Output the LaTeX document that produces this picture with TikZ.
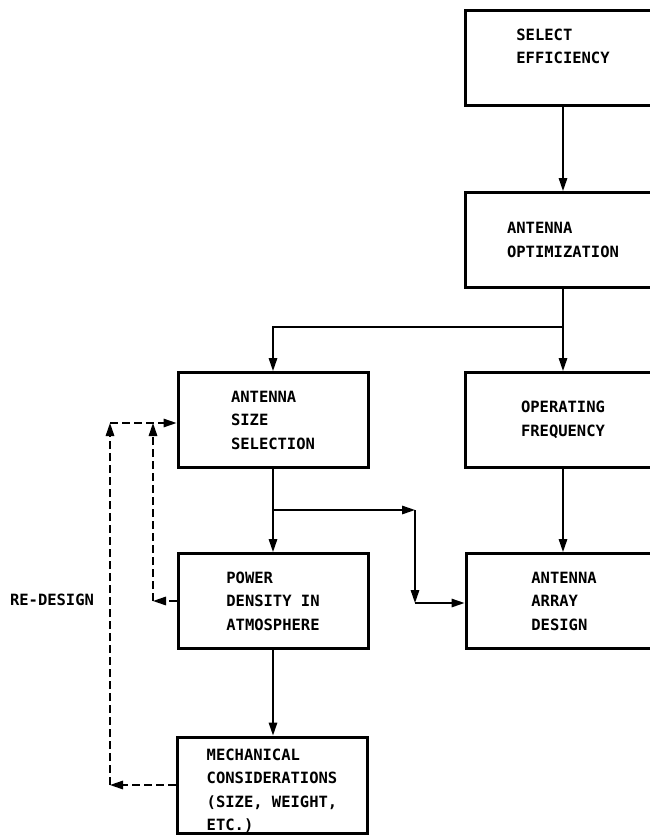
\documentclass[tikz,border=0pt]{standalone}
\usepackage{fontspec}
\newfontfamily\chartfont{DejaVu Sans Mono}
\usetikzlibrary{arrows.meta,calc}
\tikzset{
	label font/.style={font=\chartfont\bfseries\fontsize{15.5}{23.5}\selectfont},
	box/.style={draw, line width=3pt, minimum width=196pt, minimum height=95pt, inner sep=0pt, align=left, label font},
	txt/.style={inner sep=0pt, align=left, label font},
	wire/.style={line width=1.5pt},
	arr/.style={wire, -{Triangle[length=13pt,width=8.5pt]}},
	redash/.style={arr, dash pattern=on 8pt off 4pt}
}

\begin{document}
\begin{tikzpicture}[x=1pt,y=-1pt]
			%%%%% START %%%%%
			\useasboundingbox (0,0) rectangle (650,835);
			
			\node[box] (select) at (563,58) {SELECT\\EFFICIENCY\\~};
			\node[box] (optim) at (563,240) {ANTENNA\\OPTIMIZATION};
			\node[box] (freq) at (563,420) {OPERATING\\FREQUENCY};
			\node[box] (array) at (564,601) {ANTENNA\\ARRAY\\DESIGN};
			
			\node[box, minimum width=190pt] (size) at (273,420) {ANTENNA\\SIZE\\SELECTION};
			\node[box, minimum width=190pt] (power) at (273,601) {POWER\\DENSITY IN\\ATMOSPHERE};
			\node[box, minimum width=190pt, minimum height=96pt] (mech) at (272,785) {};
			\node[txt] (mechtxt) at ([yshift=-6pt]mech.center) {MECHANICAL\\CONSIDERATIONS\\(SIZE, WEIGHT,\\ETC.)};
			
			\node[txt] (redesign) at (52,600) {RE-DESIGN};
			
			% main flow
			\coordinate (split) at (563,327);
			\draw[arr] (select.south) -- (optim.north);
			\draw[wire] (optim.south) -- (split);
			\draw[arr] (split) -- (freq.north);
			\draw[arr] (split) -| (size.north);
			\draw[arr] (freq.south) -- (freq.south |- array.north);
			\draw[arr] (size.south) -- (power.north);
			\draw[arr] (power.south) -- (power.south |- mech.north);
			
			\coordinate (fork) at (273,510);
			\coordinate (bendtop) at (415,510);
			\coordinate (bendlow) at (415,603);
			\draw[arr] (fork) -- (bendtop);
			\draw[arr] (bendtop) -- (bendlow);
			\draw[arr] (bendlow) -- (bendlow -| array.west);
			
			% re-design loops
			\coordinate (inlow) at (153,601);
			\coordinate (intop) at (153,423);
			\coordinate (outlow) at (110,785);
			\coordinate (outtop) at (110,423);
			\draw[redash] (power.west) -- (inlow);
			\draw[redash] (inlow) -- (intop);
			\draw[redash] (mech.west) -- (outlow);
			\draw[redash] (outlow) -- (outtop);
			\draw[redash] (outtop) -- (outtop -| size.west);
			
			%%%%% END %%%%%
\end{tikzpicture}
\end{document}
